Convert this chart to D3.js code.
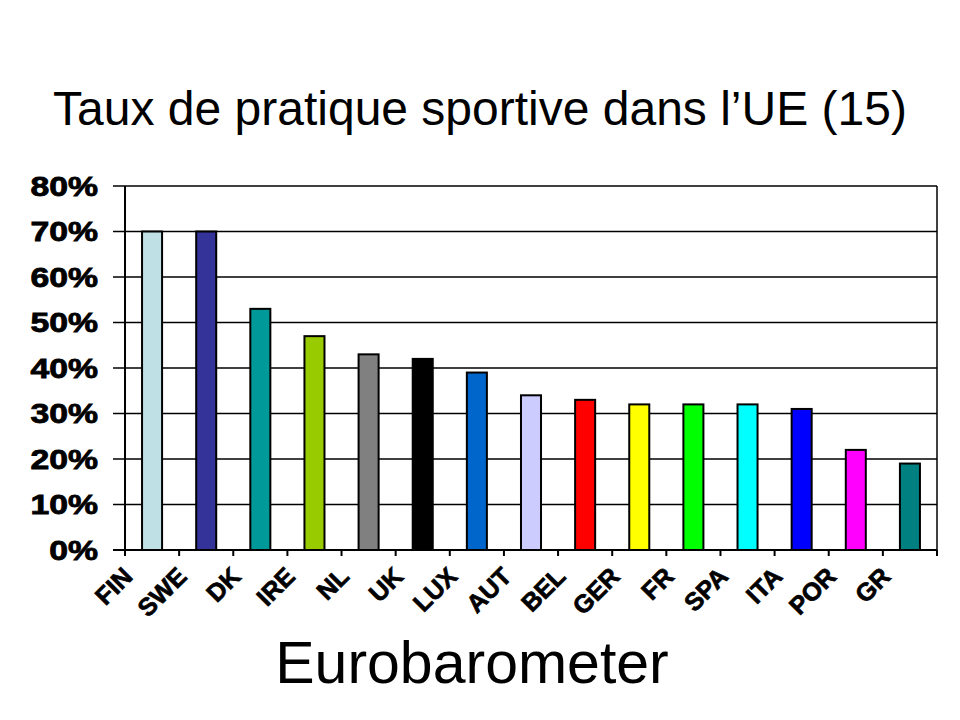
<!DOCTYPE html>
<html>
<head>
<meta charset="utf-8">
<script src="https://cdn.jsdelivr.net/npm/d3@7"></script>
<style>
  body { margin: 0; background: #fff; }
  text { font-family: "Liberation Sans", Arial, sans-serif; }
</style>
</head>
<body>
<div id="chart"></div>
<script>
  const countries = ["FIN", "SWE", "DK", "IRE", "NL", "UK", "LUX", "AUT", "BEL", "GER", "FR", "SPA", "ITA", "POR", "GR"]
  const rates = [0.70, 0.70, 0.53, 0.47, 0.43, 0.42, 0.39, 0.34, 0.33, 0.32, 0.32, 0.32, 0.31, 0.22, 0.19]
  const barColors = ["#bfe1e5", "#333399", "#009999", "#99cc00", "#808080", "#000000", "#0066cc", "#ccccff",
                     "#ff0000", "#ffff00", "#00ff00", "#00ffff", "#0000ff", "#ff00ff", "#008080"]
  const yTicks = [0, 0.1, 0.2, 0.3, 0.4, 0.5, 0.6, 0.7, 0.8]

  const width = 960
  const height = 720
  const plot = { left: 125, right: 937, top: 186, bottom: 550 }

  const svg = d3.select("#chart")
    .append("svg")
    .attr("width", width)
    .attr("height", height)

  const x = d3.scaleBand()
    .domain(countries)
    .range([plot.left, plot.right])
    .paddingInner(0.63)
    .paddingOuter(0.315)

  const y = d3.scaleLinear()
    .domain([0, 0.8])
    .range([plot.bottom, plot.top])

  // title
  svg.append("text")
    .attr("x", 480)
    .attr("y", 125)
    .attr("text-anchor", "middle")
    .attr("font-size", 48)
    .text("Taux de pratique sportive dans l’UE (15)")

  // gridlines (with the little tick stub on the left)
  svg.append("g")
    .selectAll("line")
    .data(yTicks.slice(1))
    .join("line")
      .attr("x1", plot.left - 12)
      .attr("x2", plot.right)
      .attr("y1", d => y(d))
      .attr("y2", d => y(d))
      .attr("stroke", "#000")
      .attr("stroke-width", 1.3)

  // right border
  svg.append("line")
    .attr("x1", plot.right).attr("x2", plot.right)
    .attr("y1", plot.top).attr("y2", plot.bottom)
    .attr("stroke", "#000").attr("stroke-width", 1.5)

  // bars
  svg.append("g")
    .selectAll("rect")
    .data(rates)
    .join("rect")
      .attr("x", (d, i) => x(countries[i]))
      .attr("width", x.bandwidth())
      .attr("y", d => y(d))
      .attr("height", d => y(0) - y(d))
      .attr("fill", (d, i) => barColors[i])
      .attr("stroke", "#000")
      .attr("stroke-width", 2)

  // y axis
  svg.append("line")
    .attr("x1", plot.left).attr("x2", plot.left)
    .attr("y1", plot.top).attr("y2", plot.bottom)
    .attr("stroke", "#000").attr("stroke-width", 2)

  svg.append("g")
    .selectAll("text")
    .data(yTicks)
    .join("text")
      .attr("transform", d => `translate(98,${y(d) + 9.5}) scale(1.25,1)`)
      .attr("text-anchor", "end")
      .attr("font-size", 27)
      .attr("font-weight", "bold")
      .attr("stroke", "#000")
      .attr("stroke-width", 0.8)
      .text(d => d3.format(".0%")(d))

  // x axis
  svg.append("line")
    .attr("x1", plot.left - 12).attr("x2", plot.right)
    .attr("y1", plot.bottom).attr("y2", plot.bottom)
    .attr("stroke", "#000").attr("stroke-width", 2)

  const step = x.step()
  svg.append("g")
    .selectAll("line")
    .data(d3.range(countries.length + 1))
    .join("line")
      .attr("x1", i => plot.left + i * step)
      .attr("x2", i => plot.left + i * step)
      .attr("y1", plot.bottom)
      .attr("y2", plot.bottom + 6)
      .attr("stroke", "#000")
      .attr("stroke-width", 2)

  svg.append("g")
    .selectAll("text")
    .data(countries)
    .join("text")
      .attr("transform", d => `translate(${x(d) + x.bandwidth() / 2 - 18},${plot.bottom + 28}) rotate(-45)`)
      .attr("text-anchor", "end")
      .attr("font-size", 25)
      .attr("font-weight", "bold")
      .attr("stroke", "#000")
      .attr("stroke-width", 0.7)
      .text(d => d)

  // source
  svg.append("text")
    .attr("x", 472)
    .attr("y", 683)
    .attr("text-anchor", "middle")
    .attr("font-size", 59)
    .text("Eurobarometer")
</script>
</body>
</html>
